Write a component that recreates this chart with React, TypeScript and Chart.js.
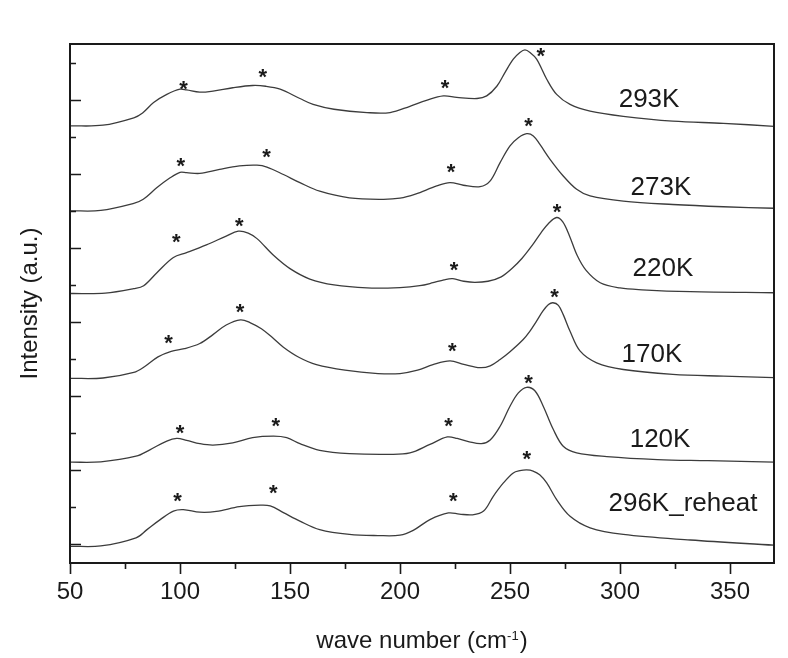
import React, { useEffect, useRef } from "react";
import { Chart, registerables } from "chart.js";

Chart.register(...registerables);

// ---------- data (wave number in cm^-1, intensity in arbitrary units, already stacked) ----------
const WN_293K = [50, 65, 79, 83, 88, 94, 100, 103, 109, 115, 124, 133, 139, 145.5, 154.5, 160.5, 170, 185, 195.5, 204.5, 212, 219.7, 225.8, 235, 239.4, 244, 247.7, 251.5, 254.5, 256.8, 259.1, 262.1, 266.7, 271.2, 277.3, 286.4, 301.5, 324, 347, 370];
const INT_293K = [1129, 1131, 1151, 1164, 1192, 1214, 1228, 1226, 1220, 1223, 1232, 1238, 1236, 1228, 1203, 1187, 1174, 1165, 1165, 1182, 1198, 1210, 1206, 1203, 1210, 1236, 1273, 1309, 1327, 1334, 1327, 1309, 1255, 1214, 1187, 1169, 1155, 1142, 1136, 1128];

const WN_273K = [50, 64, 79, 83.3, 89.4, 95.5, 100, 103, 109, 118, 127, 135, 139.5, 147, 154.5, 163.5, 177, 192, 200, 207, 216.7, 222.7, 228.8, 236.4, 240.9, 245.5, 250, 253.8, 257.6, 260.6, 263.6, 268.2, 274.2, 280.3, 286.4, 301.5, 324, 347, 370];
const INT_273K = [900, 901, 920, 931, 962, 989, 1004, 1003, 1001, 1012, 1021, 1023, 1018, 998, 976, 953, 935, 931, 934, 945, 967, 976, 969, 965, 980, 1030, 1075, 1097, 1108, 1102, 1079, 1039, 994, 958, 940, 926, 917, 911, 907];

const WN_220K = [50, 66, 79, 83.5, 89.5, 97, 103, 112, 121, 126.5, 131, 135, 142.5, 150, 159, 170, 185, 200, 209, 215, 220, 224, 229, 234, 240, 246, 251, 255.5, 260, 264, 267.5, 271.2, 274, 277, 280.5, 284.5, 291, 300, 310, 332, 370];
const INT_220K = [677, 678, 690, 698, 733, 774, 787, 808, 832, 845, 840, 825, 780, 744, 716, 700, 692, 693, 698, 706, 714, 717, 710, 707, 710, 722, 745, 772, 806, 840, 866, 882, 870, 833, 780, 740, 706, 692, 687, 682, 679];

const WN_170K = [50, 65, 79, 84, 90, 96, 102, 109, 115, 121, 127.5, 132, 137, 142, 147, 154, 162, 175, 190, 200, 208, 215, 222.7, 229, 236.4, 241, 245.5, 250, 256, 259, 262, 265, 267.5, 269.5, 272, 274.2, 277.3, 281.8, 289.4, 301.5, 324, 347, 370];
const INT_170K = [448, 449, 464, 480, 506, 521, 528, 542, 566, 592, 606, 598, 582, 558, 532, 505, 485, 470, 461, 461, 470, 485, 495, 486, 477, 482, 499, 520, 553, 575, 602, 630, 647, 652, 645, 620, 575, 522, 490, 472, 459, 454, 450];

const WN_120K = [50, 64, 80, 86.5, 94, 98.5, 103, 109, 115, 124, 133, 142.5, 148.5, 154.5, 163.5, 177, 195.5, 204.5, 213.6, 221.5, 226, 231.5, 237, 241, 245.5, 250, 253.8, 257.6, 261.4, 265.1, 269.7, 274.2, 280.3, 294, 317, 340, 370];
const INT_120K = [222, 223, 238, 256, 279, 286, 281, 272, 268, 274, 288, 292, 288, 272, 254, 245, 243, 247, 270, 290, 286, 277, 272, 282, 319, 373, 409, 424, 414, 373, 310, 265, 247, 237, 229, 226, 222];

const WN_296K_REHEAT = [50, 64, 80, 85, 91, 97, 101.5, 109, 116.5, 127, 136.5, 141, 147, 154.5, 163.5, 177, 190, 200, 206, 213.6, 222, 227, 233, 238, 242.4, 247, 251.5, 254.5, 257.6, 260.5, 263.5, 266.7, 271.2, 277.3, 286.4, 301.5, 332, 370];
const INT_296K_REHEAT = [-5, -4, 18, 40, 67, 90, 94, 87, 89, 102, 106, 104, 86, 63, 40, 27, 24, 25, 38, 67, 85, 82, 80, 90, 130, 166, 193, 199, 201, 198, 188, 166, 121, 76, 45, 27, 12, -2];

const SERIES_LABELS = ["293K", "273K", "220K", "170K", "120K", "296K_reheat"];
const LABEL_X = [313.2, 318.6, 319.5, 314.5, 318.2, 328.6];
const LABEL_Y = [1179, 944, 723, 491, 264, 89];

// "*" peak markers: [wave number, intensity]
const STARS_293K = [[101.6, 1238], [137.6, 1270], [220.5, 1241], [264, 1328]];
const STARS_273K = [[100.4, 1031], [139.3, 1055], [223.2, 1014], [258.4, 1139]];
const STARS_220K = [[98.3, 825], [126.9, 868], [224.6, 751], [271.4, 907]];
const STARS_170K = [[94.8, 553], [127.3, 636], [223.8, 531], [270.2, 677]];
const STARS_120K = [[100, 310], [143.5, 328], [222.1, 328], [258.4, 445]];
const STARS_296K_REHEAT = [[98.9, 126], [142.4, 148], [224.2, 126], [257.6, 240]];

const X_MAJOR_TICKS = [50, 100, 150, 200, 250, 300, 350];
const X_MINOR_TICKS = [75, 125, 175, 225, 275, 325];
const Y_TICKS = [0, 100, 200, 300, 400, 500, 600, 700, 800, 900, 1000, 1100, 1200, 1300];

const X_TITLE_MAIN = "wave number (cm";
const X_TITLE_SUP = "-1";
const X_TITLE_END = ")";
const Y_TITLE = "Intensity (a.u.)";

const FONT = '"Liberation Sans", Arial, Helvetica, sans-serif';
const INK = "#1a1a1a";
const LINE = "#3c3c3c";

const ALL_WN = [WN_293K, WN_273K, WN_220K, WN_170K, WN_120K, WN_296K_REHEAT];
const ALL_INT = [INT_293K, INT_273K, INT_220K, INT_170K, INT_120K, INT_296K_REHEAT];
const ALL_STARS = [STARS_293K, STARS_273K, STARS_220K, STARS_170K, STARS_120K, STARS_296K_REHEAT];

const decorPlugin = {
  id: "decor",
  afterDatasetsDraw(chart: any) {
    const { ctx, chartArea: a, scales } = chart;
    const xs = scales.x;
    const ys = scales.y;
    ctx.save();

    // frame
    ctx.strokeStyle = INK;
    ctx.lineWidth = 2;
    ctx.strokeRect(a.left, a.top, a.right - a.left, a.bottom - a.top);

    // ticks
    ctx.lineWidth = 1.6;
    ctx.beginPath();
    for (const v of X_MAJOR_TICKS) {
      const px = Math.round(xs.getPixelForValue(v)) + 0.5;
      ctx.moveTo(px, a.bottom);
      ctx.lineTo(px, a.bottom + 11);
    }
    for (const v of X_MINOR_TICKS) {
      const px = Math.round(xs.getPixelForValue(v)) + 0.5;
      ctx.moveTo(px, a.bottom);
      ctx.lineTo(px, a.bottom + 6);
    }
    Y_TICKS.forEach((v, i) => {
      const py = Math.round(ys.getPixelForValue(v)) + 0.5;
      const len = i % 2 === 0 ? 11 : 6;
      ctx.moveTo(a.left, py);
      ctx.lineTo(a.left + len, py);
    });
    ctx.stroke();

    // stars
    ctx.fillStyle = INK;
    ctx.font = `bold 22px ${FONT}`;
    ctx.textAlign = "center";
    ctx.textBaseline = "alphabetic";
    const sm = ctx.measureText("*");
    const starShift = (sm.actualBoundingBoxAscent - sm.actualBoundingBoxDescent) / 2;
    for (const stars of ALL_STARS) {
      for (const [sx, sy] of stars) {
        ctx.fillText("*", xs.getPixelForValue(sx), ys.getPixelForValue(sy) + starShift);
      }
    }

    // series labels
    ctx.font = `26px ${FONT}`;
    SERIES_LABELS.forEach((t, i) => {
      ctx.fillText(t, xs.getPixelForValue(LABEL_X[i]), ys.getPixelForValue(LABEL_Y[i]));
    });

    // x title with superscript
    ctx.textAlign = "left";
    ctx.font = `24px ${FONT}`;
    const wMain = ctx.measureText(X_TITLE_MAIN).width;
    const wEnd = ctx.measureText(X_TITLE_END).width;
    ctx.font = `13px ${FONT}`;
    const wSup = ctx.measureText(X_TITLE_SUP).width;
    const total = wMain + wSup + 1 + wEnd;
    let tx = (a.left + a.right) / 2 - total / 2;
    const base = 648;
    ctx.font = `24px ${FONT}`;
    ctx.fillText(X_TITLE_MAIN, tx, base);
    tx += wMain;
    ctx.font = `13px ${FONT}`;
    ctx.fillText(X_TITLE_SUP, tx, base - 8);
    tx += wSup + 1;
    ctx.font = `24px ${FONT}`;
    ctx.fillText(X_TITLE_END, tx, base);

    ctx.restore();
  },
};

export default function App() {
  const canvasRef = useRef<HTMLCanvasElement | null>(null);

  useEffect(() => {
    const canvas = canvasRef.current;
    if (!canvas) return;
    const datasets = ALL_WN.map((wn, i) => ({
      label: SERIES_LABELS[i],
      data: wn.map((x, j) => ({ x, y: ALL_INT[i][j] })),
      borderColor: LINE,
      borderWidth: 1.3,
      pointRadius: 0,
      fill: false,
      tension: 0.35,
    }));

    const chart = new Chart(canvas, {
      type: "line",
      data: { datasets },
      options: {
        animation: false,
        responsive: true,
        maintainAspectRatio: false,
        layout: { padding: { top: 44, right: 14, left: 0, bottom: 0 } },
        plugins: {
          legend: { display: false },
          tooltip: { enabled: false },
        },
        scales: {
          x: {
            type: "linear",
            min: 50,
            max: 370,
            border: { display: false },
            grid: { display: false, drawTicks: true, tickLength: 11 },
            ticks: {
              stepSize: 50,
              includeBounds: false,
              autoSkip: false,
              maxRotation: 0,
              padding: 4,
              color: INK,
              font: { family: FONT, size: 24 },
            },
            afterFit: (s: any) => {
              s.height = 95;
            },
          },
          y: {
            type: "linear",
            min: -50,
            max: 1350,
            border: { display: false },
            grid: { display: false },
            ticks: { display: false },
            title: {
              display: true,
              text: Y_TITLE,
              color: INK,
              font: { family: FONT, size: 24 },
              padding: { top: 16, bottom: 0 },
            },
            afterFit: (s: any) => {
              s.width = 70;
            },
          },
        },
      },
      plugins: [decorPlugin],
    });
    return () => chart.destroy();
  }, []);

  return (
    <div style={{ position: "fixed", left: 0, top: 0, width: 788, height: 658, background: "#fff" }}>
      <canvas ref={canvasRef} />
    </div>
  );
}
